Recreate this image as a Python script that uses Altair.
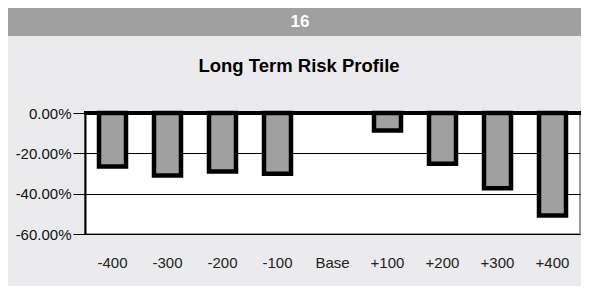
import altair as alt
import pandas as pd

categories = ["-400", "-300", "-200", "-100", "Base", "+100", "+200", "+300", "+400"]
values = [-26.5, -31.0, -29.0, -30.1, 0.0, -8.7, -25.2, -37.3, -50.8]
y_ticks = [0, -20, -40, -60]
title_text = "Long Term Risk Profile"
page_text = "16"

df = pd.DataFrame({"cat": categories, "val": values})

W, H = 495, 121
PL, PT = 77, 105

header = alt.Chart(pd.DataFrame({"a": [0]})).mark_rect(color="#a0a0a0").encode(
    x=alt.value(-PL), x2=alt.value(W + 10), y=alt.value(-PT), y2=alt.value(-PT + 28)
)
page_num = alt.Chart(pd.DataFrame({"t": [page_text]})).mark_text(
    font="Liberation Sans", fontSize=17, fontWeight="bold", color="white", baseline="middle"
).encode(x=alt.value(215), y=alt.value(-91), text="t:N")
title = alt.Chart(pd.DataFrame({"t": [title_text]})).mark_text(
    font="Liberation Sans", fontSize=18.5, fontWeight="bold", color="black", baseline="middle"
).encode(x=alt.value(214), y=alt.value(-47), text="t:N")

base = alt.Chart(df)
bars = base.transform_filter("datum.val != 0").mark_bar(
    size=27, fill="#a0a0a0", stroke="black", strokeWidth=4.5
).encode(
    x=alt.X("cat:N", sort=categories, title=None,
            scale=alt.Scale(domain=categories, paddingInner=0.5, paddingOuter=0.25),
            axis=alt.Axis(ticks=False, domain=False, labelAngle=0, labelPadding=21,
                          labelFont="Liberation Sans", labelFontSize=15, labelColor="#222")),
    y=alt.Y("val:Q", title=None,
            scale=alt.Scale(domain=[-60, 0], nice=False),
            axis=alt.Axis(values=y_ticks, labelExpr="replace(format(datum.value, '.2f'), '\u2212', '-') + '%'",
                          labelFont="Liberation Sans", labelFontSize=15, labelColor="#111",
                          tickSize=12, tickColor="black", domainColor="black", domainWidth=2,
                          gridColor="black", gridWidth=1, gridOpacity=1, labelPadding=2)),
)
zero = alt.Chart(pd.DataFrame({"z": [0]})).mark_rule(color="black", strokeWidth=4).encode(
    y="z:Q", x=alt.value(-1), x2=alt.value(W + 2)
)

chart = alt.layer(header, page_num, title, bars, zero).properties(
    width=W, height=H,
    autosize=alt.AutoSizeParams(type="none"),
    padding={"left": PL, "top": PT, "right": 1, "bottom": 52},
    background="#ebebed",
).configure_view(fill="white", stroke="#999999", strokeWidth=2)

chart.save("out.html", embed_options={"renderer": "svg", "actions": False})
